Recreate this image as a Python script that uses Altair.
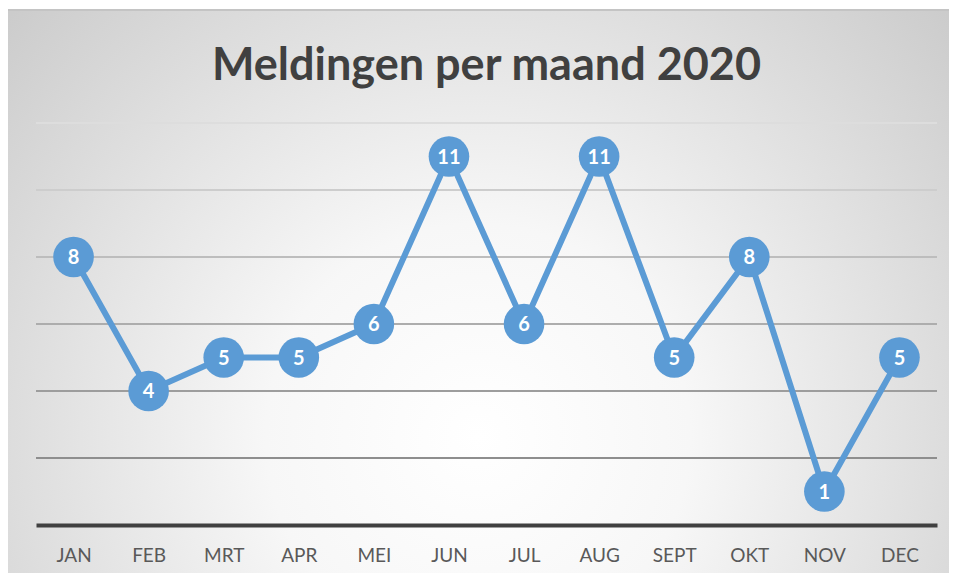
import altair as alt
import pandas as pd

title_text = "Meldingen per maand 2020"
months = ["JAN", "FEB", "MRT", "APR", "MEI", "JUN", "JUL", "AUG", "SEPT", "OKT", "NOV", "DEC"]
counts = [8, 4, 5, 5, 6, 11, 6, 11, 5, 8, 1, 5]
grid_values = [2, 4, 6, 8, 10, 12]

df = pd.DataFrame({"maand": months, "meldingen": counts})
grid_df = pd.DataFrame({"v": grid_values})

W, H = 901, 402
BLUE = "#5b9bd5"
FONT = "Lato"

x_enc = alt.X("maand:O", sort=months,
              axis=alt.Axis(title=None, labelAngle=0, ticks=False, domain=True,
                            domainColor="#404040", domainWidth=4,
                            labelColor="#595959", labelFontSize=19, labelFont=FONT,
                            labelPadding=21, zindex=1))
y_scale = alt.Scale(domain=[0, 12], nice=False, zero=True)

background = alt.Chart(alt.Data(values=[{}])).mark_rect(
    fill=alt.Gradient(gradient="radial",
                      stops=[alt.GradientStop(offset=0, color="#ffffff"),
                             alt.GradientStop(offset=0.3, color="#f7f7f7"),
                             alt.GradientStop(offset=1, color="#c4c4c4")],
                      x1=0.5, y1=0.65, r1=0, x2=0.5, y2=0.65, r2=0.75),
    stroke="#c4c4c4", strokeWidth=2
).encode(x=alt.value(-30), x2=alt.value(914), y=alt.value(-113), y2=alt.value(457))

title = alt.Chart(alt.Data(values=[{"t": title_text}])).mark_text(
    font=FONT, fontSize=45, fontWeight="bold", color="#404040",
    align="center", baseline="alphabetic"
).encode(text="t:N", x=alt.value(W / 2), y=alt.value(-43))

grid = alt.Chart(grid_df).mark_rule(strokeWidth=2).encode(
    y=alt.Y("v:Q", scale=y_scale, axis=None),
    x=alt.value(0), x2=alt.value(W),
    color=alt.Color("v:Q", scale=alt.Scale(domain=[2, 12], range=["#8e8e8e", "#dddddd"]), legend=None),
)

base = alt.Chart(df).encode(
    x=x_enc,
    y=alt.Y("meldingen:Q", scale=y_scale, axis=None),
)

line = base.mark_line(color=BLUE, strokeWidth=6)
points = base.mark_circle(size=1650, color=BLUE, opacity=1)
labels = base.mark_text(color="white", fontWeight="bold", fontSize=20, font=FONT,
                        baseline="middle", dy=1).encode(text="meldingen:Q")

chart = alt.layer(background, title, grid, line, points, labels).properties(
    width=W, height=H,
    autosize=alt.AutoSizeParams(type="none"),
    padding={"left": 28, "top": 115, "right": 12, "bottom": 48},
).configure_view(stroke=None).configure(background="white")

chart.save("out.html", embed_options={"renderer": "svg", "actions": False})
